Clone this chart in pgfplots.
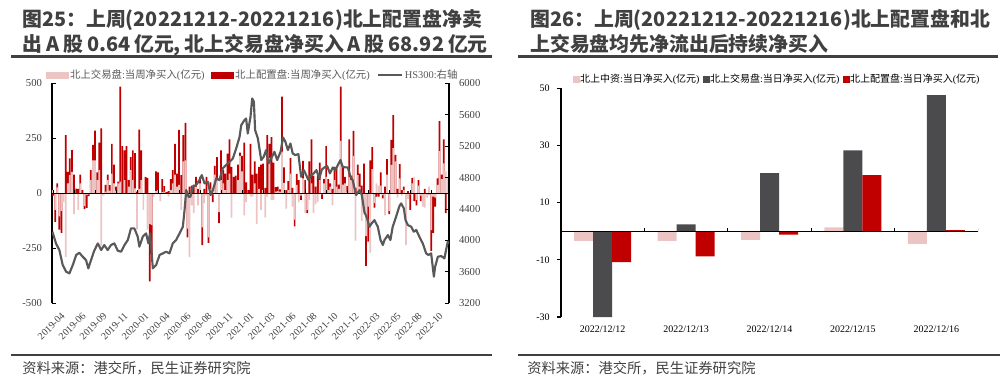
\documentclass[border=0pt]{standalone}
\usepackage{fontspec}
\setmainfont{Liberation Serif}
\newfontfamily\cjk{Noto Sans CJK SC}
\usepackage{pgfplots}
\usepackage{pgfplotstable}
\pgfplotsset{compat=1.18}
\definecolor{pinkc}{HTML}{ECC4C4}
\definecolor{redc}{HTML}{C00000}
\definecolor{grayc}{HTML}{4B4B4D}
\definecolor{linec}{HTML}{595959}
\definecolor{titlec}{HTML}{404040}
\definecolor{tickc}{HTML}{404040}
\definecolor{legc}{HTML}{595959}

\pgfplotstableread[row sep=\\]{
i p r\\
0 15 -10\\ 1 -75 -55\\ 2 27 18\\ 3 -105 -60\\ 4 -80 -100\\ 5 -40 0\\ 6 -290 265\\ 7 45 53\\ 8 83 76\\ 9 98 98\\
10 -95 85\\ 11 0 22\\ 12 -75 20\\ 13 45 40\\ 14 0 15\\ 15 -57 -15\\ 16 -8 -58\\ 17 -5 -8\\ 18 60 45\\ 19 150 70\\
20 150 135\\ 21 60 35\\ 22 105 125\\ 23 -240 295\\ 24 -10 0\\ 25 8 30\\ 26 60 25\\ 27 12 25\\ 28 90 135\\ 29 45 85\\
30 12 18\\ 31 45 8\\ 32 53 432\\ 33 0 215\\ 34 60 135\\ 35 0 215\\ 36 30 30\\ 37 105 60\\ 38 60 135\\ 39 23 160\\
40 -165 8\\ 41 20 270\\ 42 60 135\\ 43 -75 0\\ 44 0 75\\ 45 -165 70\\ 46 -140 -260\\ 47 -145 -130\\ 48 -15 0\\ 49 10 90\\
50 15 80\\ 51 -35 0\\ 52 5 60\\ 53 8 25\\ 54 0 5\\ 55 -15 10\\ 56 15 50\\ 57 45 60\\ 58 85 140\\ 59 30 60\\
60 38 250\\ 61 -75 83\\ 62 145 120\\ 63 150 170\\ 64 -160 -40\\ 65 -290 30\\ 66 -55 35\\ 67 -90 40\\ 68 30 45\\ 69 -55 20\\
70 45 30\\ 71 -155 -80\\ 72 -45 20\\ 73 -10 75\\ 74 -200 -25\\ 75 20 30\\ 76 -5 -35\\ 77 85 40\\ 78 60 105\\ 79 -85 -50\\
80 60 135\\ 81 45 60\\ 82 15 75\\ 83 60 120\\ 84 90 155\\ 85 -110 120\\ 86 0 75\\ 87 0 80\\ 88 60 70\\ 89 170 15\\
90 100 70\\ 91 -100 230\\ 92 -40 50\\ 93 0 15\\ 94 -15 225\\ 95 -15 85\\ 96 45 100\\ 97 -140 90\\ 98 20 100\\ 99 -75 130\\
100 15 120\\ 101 -110 25\\ 102 -15 265\\ 103 160 65\\ 104 -30 255\\ 105 -30 140\\ 106 8 20\\ 107 10 20\\ 108 8 10\\ 109 190 250\\
110 48 70\\ 111 -70 15\\ 112 15 40\\ 113 90 70\\ 114 -60 25\\ 115 -120 -30\\ 116 38 50\\ 117 -40 60\\ 118 -10 -20\\ 119 68 80\\
120 -90 60\\ 121 -75 -15\\ 122 -30 145\\ 123 45 200\\ 124 -90 80\\ 125 -50 30\\ 126 -40 80\\ 127 60 80\\ 128 -5 -20\\ 129 45 20\\
130 75 140\\ 131 15 50\\ 132 30 15\\ 133 -55 20\\ 134 60 60\\ 135 30 90\\ 136 20 20\\ 137 238 247\\ 138 40 80\\ 139 45 30\\
140 8 25\\ 141 75 170\\ 142 60 20\\ 143 170 114\\ 144 -215 25\\ 145 83 48\\ 146 30 60\\ 147 -125 35\\ 148 -95 135\\ 149 -195 -135\\
150 -60 -160\\ 151 -270 150\\ 152 110 100\\ 153 -45 -20\\ 154 45 -15\\ 155 35 -15\\ 156 35 60\\ 157 -8 -15\\ 158 -100 30\\ 159 85 70\\
160 -80 -15\\ 161 129 114\\ 162 205 151\\ 163 145 30\\ 164 -20 20\\ 165 68 65\\ 166 -10 15\\ 167 15 15\\ 168 -235 0\\ 169 -25 10\\
170 -5 -70\\ 171 45 25\\ 172 75 -35\\ 173 -30 -25\\ 174 35 25\\ 175 -10 -25\\ 176 -60 0\\ 177 -65 20\\ 178 -20 0\\ 179 30 -5\\
180 -167 -95\\ 181 -15 -165\\ 182 -20 -40\\ 183 38 30\\ 184 192 136\\ 185 65 20\\ 186 136 109\\ 187 100 -90\\ 188 68.92 -0.64\\
}\leftdata

\pgfplotstableread[row sep=\\]{
x y\\
-0.3 4112\\ 1.4 3963\\ 3.0 3878\\ 4.6 3688\\ 6.2 3603\\ 7.8 3582\\ 9.4 3688\\ 11.0 3815\\ 12.5 3844\\ 14.1 3794\\
15.7 3751\\ 16.8 3645\\ 18.1 3751\\ 19.4 3857\\ 21.3 3963\\ 22.9 3878\\ 24.4 3942\\ 26.0 3878\\ 27.6 3942\\ 29.2 3963\\
30.8 3870\\ 32.4 3857\\ 34.0 3942\\ 35.6 4006\\ 37.1 4154\\ 38.7 4154\\ 40.3 4048\\ 41.1 3921\\ 42.7 4048\\ 44.3 4090\\
45.4 3963\\ 46.2 4090\\ 47.5 3645\\ 49.1 3688\\ 50.7 3815\\ 52.3 3836\\ 53.8 3857\\ 55.4 3836\\ 57.0 3963\\ 58.6 4006\\
60.2 4090\\ 61.8 4175\\ 62.6 4387\\ 63.4 4642\\ 64.5 4557\\ 65.4 4557\\ 66.5 4684\\ 68.1 4705\\ 69.7 4769\\ 70.8 4832\\
72.1 4727\\ 73.7 4748\\ 75.0 4578\\ 76.1 4642\\ 77.7 4790\\ 79.2 4769\\ 80.8 4917\\ 82.4 4960\\ 84.0 5002\\ 85.6 5044\\
87.2 5172\\ 88.8 5320\\ 89.6 5468\\ 91.1 5532\\ 91.9 5553\\ 92.7 5362\\ 94.0 5574\\ 94.8 5808\\ 95.6 5765\\ 96.2 5405\\
97.5 5299\\ 99.1 5023\\ 100.3 5066\\ 101.4 5150\\ 102.6 4981\\ 103.8 5044\\ 105.4 5129\\ 106.7 5023\\ 108.3 5129\\ 109.5 5312\\
110.6 5257\\ 111.8 5150\\ 113.0 5235\\ 114.1 5108\\ 115.3 5087\\ 116.8 5099\\ 118.1 4811\\ 119.4 4896\\ 120.5 4832\\ 121.6 4769\\
122.9 4832\\ 124.1 4854\\ 125.4 4896\\ 126.7 4790\\ 128.0 4904\\ 129.2 4930\\ 130.5 4947\\ 131.8 4854\\ 133.2 4930\\ 134.3 4896\\
135.6 4960\\ 136.8 5023\\ 137.9 4938\\ 139.1 4930\\ 140.3 4930\\ 141.6 4811\\ 142.6 4770\\ 144.3 4578\\ 145.9 4642\\ 147.0 4578\\
148.2 4366\\ 149.5 4281\\ 150.6 4175\\ 151.7 4218\\ 153.0 4260\\ 154.6 4175\\ 155.9 4006\\ 157.0 3942\\ 157.8 4006\\ 159.4 4069\\
160.6 4006\\ 161.7 4175\\ 163.3 4302\\ 164.9 4438\\ 165.7 4472\\ 167.0 4408\\ 167.8 4260\\ 168.9 4196\\ 170.5 4175\\ 171.7 4112\\
172.9 4133\\ 174.4 4048\\ 176.0 3963\\ 177.6 3836\\ 178.7 3815\\ 180.0 3836\\ 181.3 3539\\ 181.9 3666\\ 183.2 3793\\ 184.8 3802\\
186.3 3772\\ 187.9 3984\\ 188.5 3963\\
}\hsdata

\newcommand{\tsp}{\hspace{0.2em}}
\begin{document}
\begin{tikzpicture}
\path[use as bounding box] (0,0) rectangle (753.75pt,289.5pt);

% ---------- titles ----------
\tikzset{ttl/.style={anchor=base west, inner sep=0pt, text=titlec, font=\cjk\bfseries\fontsize{14.9}{18}\selectfont}}
\node[ttl] at (16.5pt,269.25pt) {图25：上周(20221212-20221216)北上配置盘净卖};
\node[ttl] at (16.5pt,250.5pt) {出\tsp A\tsp 股\tsp 0.64\tsp 亿元,\tsp 北上交易盘净买入\tsp A\tsp 股\tsp 68.92\tsp 亿元};
\draw[titlec, line width=1.9pt] (8.25pt,247.1pt) -- (369pt,247.1pt);

\node[ttl] at (397.5pt,269.25pt) {图26：上周(20221212-20221216)北上配置盘和北};
\node[ttl] at (397.5pt,250.5pt) {上交易盘均先净流出后持续净买入};
\draw[titlec, line width=1.9pt] (388.5pt,247.1pt) -- (748.5pt,247.1pt);

% ---------- footers ----------
\draw[titlec, line width=1.9pt] (8.25pt,23.25pt) -- (369pt,23.25pt);
\draw[titlec, line width=1.9pt] (388.5pt,23.25pt) -- (750pt,23.25pt);
\node[anchor=base west, inner sep=0pt, text=titlec, font=\cjk\fontsize{10.7}{12}\selectfont] at (16.5pt,9.5pt) {资料来源：港交所，民生证券研究院};
\node[anchor=base west, inner sep=0pt, text=titlec, font=\cjk\fontsize{10.7}{12}\selectfont] at (395.25pt,9.5pt) {资料来源：港交所，民生证券研究院};

% ---------- left chart: bars ----------
\begin{axis}[
  at={(39pt,62pt)}, anchor=south west, scale only axis,
  width=297.75pt, height=165pt,
  xmin=-0.5, xmax=188.5, ymin=-500, ymax=500,
  axis y line*=left, axis x line*=bottom,
  x axis line style={draw=none},
  y axis line style={black, line width=0.8pt},
  xtick={0,10,...,180},
  xticklabels={2019-04,2019-06,2019-09,2019-11,2020-01,2020-04,2020-06,2020-08,2020-11,2021-01,2021-03,2021-06,2021-08,2021-10,2021-12,2022-03,2022-05,2022-08,2022-10},
  xtick style={draw=none},
  xticklabel style={rotate=45, anchor=north east, font=\fontsize{7.5}{8}\selectfont, text=tickc, yshift=-8pt, inner sep=0.5pt},
  ytick={-500,-250,0,250,500},
  ytick align=inside, ytick style={black, line width=0.8pt}, major tick length=3pt,
  yticklabel style={font=\fontsize{8}{9}\selectfont, text=tickc, xshift=-4pt},
  /pgf/number format/assume math mode=true, /pgf/number format/1000 sep={},
  legend columns=3,
  legend style={draw=none, fill=none, at={(0.5,1)}, anchor=south, yshift=0pt, xshift=2pt,
    font=\fontsize{7.8}{9}\selectfont, text=legc, inner sep=0pt,
    /tikz/every odd column/.append style={column sep=-1pt},
    /tikz/every even column/.append style={column sep=3pt}},
]
\addlegendimage{legend image code/.code={\fill[pinkc] (0pt,-2.3pt) rectangle (16.5pt,2.3pt);}}
\addlegendentry{{\cjk 北上交易盘}:{\cjk 当周净买入}({\cjk 亿元})}
\addlegendimage{legend image code/.code={\fill[redc] (0pt,-2.3pt) rectangle (16.5pt,2.3pt);}}
\addlegendentry{{\cjk 北上配置盘}:{\cjk 当周净买入}({\cjk 亿元})}
\addlegendimage{legend image code/.code={\draw[linec, line width=1.8pt] (0pt,0pt) -- (18.5pt,0pt);}}
\addlegendentry{HS300:{\cjk 右轴}}

\addplot[ybar, bar width=1.3pt, bar shift=0pt, fill=redc, draw=none, forget plot]
  table[x=i, y expr={(\thisrow{p}*\thisrow{r}>0) ? (\thisrow{p}+\thisrow{r}) : (\thisrow{r})}] {\leftdata};
\addplot[ybar, bar width=1.3pt, bar shift=0pt, fill=pinkc, draw=none, forget plot]
  table[x=i, y=p] {\leftdata};
\draw[black, line width=0.8pt] (axis cs:-0.5,0) -- (axis cs:188.5,0);
\pgfplotsinvokeforeach{0,10,...,180}{\draw[black, line width=0.6pt] (axis cs:#1,0) -- ++(0pt,2.5pt);}
\end{axis}

% ---------- left chart: HS300 ----------
\begin{axis}[
  at={(39pt,62pt)}, anchor=south west, scale only axis,
  width=297.75pt, height=165pt,
  xmin=-0.5, xmax=188.5, ymin=3200, ymax=6000,
  axis y line*=right, axis x line=none,
  y axis line style={black, line width=0.8pt},
  ytick={3200,3600,...,6000},
  ytick align=inside, ytick style={black, line width=0.8pt}, major tick length=3pt,
  yticklabel style={font=\fontsize{8}{9}\selectfont, text=tickc, xshift=4pt},
  /pgf/number format/assume math mode=true, /pgf/number format/1000 sep={},
]
\addplot[linec, line width=1.6pt, line join=round, no marks] table[x=x, y=y] {\hsdata};
\end{axis}

% ---------- right chart ----------
\begin{axis}[
  at={(420.75pt,51.75pt)}, anchor=south west, scale only axis,
  width=312.75pt, height=171.5pt,
  xmin=-0.5, xmax=4.5, ymin=-30, ymax=50,
  axis y line*=left, axis x line*=bottom,
  x axis line style={draw=none},
  y axis line style={black, line width=0.8pt},
  xtick={0,...,4},
  xticklabels={2022/12/12,2022/12/13,2022/12/14,2022/12/15,2022/12/16},
  xtick style={draw=none},
  xticklabel style={font=\fontsize{7.5}{8}\selectfont, text=black, yshift=-3pt},
  ytick={-30,-10,10,30,50},
  ytick align=outside, ytick style={black, line width=0.8pt}, major tick length=3pt,
  yticklabel style={font=\fontsize{7.5}{8}\selectfont, text=black, xshift=-2pt},
  /pgf/number format/assume math mode=true,
  legend columns=3,
  legend style={draw=none, fill=none, at={(0.5,1)}, anchor=south, xshift=6pt, yshift=1pt,
    font=\fontsize{7.5}{9}\selectfont, text=black, inner sep=0pt,
    /tikz/every odd column/.append style={column sep=-1.5pt},
    /tikz/every even column/.append style={column sep=0.5pt}},
]
\addlegendimage{legend image code/.code={\fill[pinkc] (0pt,-2.25pt) rectangle (4.5pt,2.25pt);}}
\addlegendentry{{\cjk 北上中资}:{\cjk 当日净买入}({\cjk 亿元})}
\addlegendimage{legend image code/.code={\fill[grayc] (0pt,-2.25pt) rectangle (4.5pt,2.25pt);}}
\addlegendentry{{\cjk 北上交易盘}:{\cjk 当日净买入}({\cjk 亿元})}
\addlegendimage{legend image code/.code={\fill[redc] (0pt,-2.25pt) rectangle (4.5pt,2.25pt);}}
\addlegendentry{{\cjk 北上配置盘}:{\cjk 当日净买入}({\cjk 亿元})}

\addplot[ybar, bar width=14.25pt, bar shift=-14.25pt, fill=pinkc, draw=none, forget plot]
  coordinates {(0,-3.4) (1,-3.4) (2,-3.0) (3,1.4) (4,-4.4)};
\addplot[ybar, bar width=14.25pt, bar shift=0pt, fill=grayc, draw=none, forget plot]
  coordinates {(0,-30.0) (1,2.4) (2,20.3) (3,28.3) (4,47.6)};
\addplot[ybar, bar width=14.25pt, bar shift=14.25pt, fill=redc, draw=none, forget plot]
  coordinates {(0,-10.8) (1,-8.8) (2,-1.2) (3,19.6) (4,0.4)};
\draw[black, line width=0.8pt] (axis cs:-0.5,0) -- (axis cs:4.5,0);
\pgfplotsinvokeforeach{0.5,1.5,2.5,3.5,4.5}{\draw[black, line width=0.6pt] (axis cs:#1,0) -- ++(0pt,2.5pt);}
\end{axis}
\end{tikzpicture}
\end{document}
